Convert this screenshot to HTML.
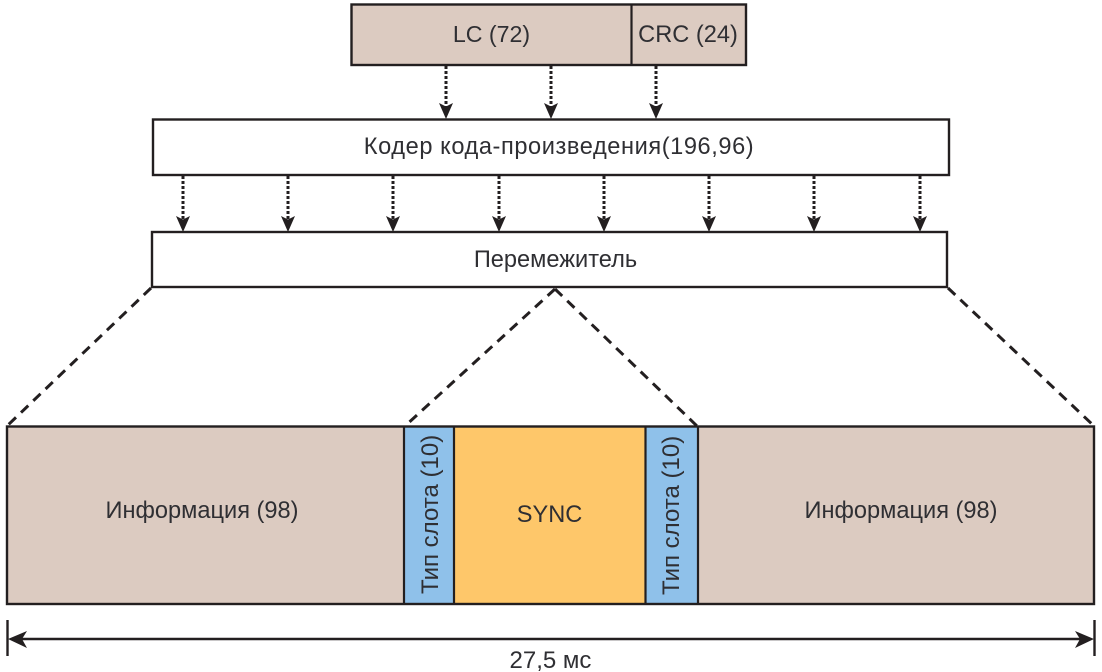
<!DOCTYPE html>
<html>
<head>
<meta charset="utf-8">
<style>
html,body{margin:0;padding:0;background:#fff;width:1102px;height:672px;overflow:hidden}
svg{display:block}
text{font-family:"Liberation Sans",Arial,sans-serif;font-size:23.6px;fill:#2f2f33}
</style>
</head>
<body>
<svg width="1102" height="672" viewBox="0 0 1102 672" xmlns="http://www.w3.org/2000/svg">
<defs>
<path id="ah" d="M-7,-15 L0,-11.5 L7,-15 L0,1 Z" fill="#231f20"/>
</defs>

<!-- Top box -->
<rect x="351.5" y="4.5" width="394.5" height="60.5" fill="#dccbc1" stroke="#231f20" stroke-width="2.4"/>
<line x1="631.5" y1="4" x2="631.5" y2="65" stroke="#231f20" stroke-width="2.2"/>
<text x="491.5" y="42" text-anchor="middle" style="font-size:23.2px">LC (72)</text>
<text x="688" y="42" text-anchor="middle">CRC (24)</text>

<!-- Top arrows -->
<g stroke="#231f20" stroke-width="3" stroke-dasharray="3 2" fill="none">
<line x1="446" y1="66" x2="446" y2="108"/>
<line x1="551" y1="66" x2="551" y2="108"/>
<line x1="656" y1="66" x2="656" y2="108"/>
</g>
<use href="#ah" x="446" y="118"/>
<use href="#ah" x="551" y="118"/>
<use href="#ah" x="656" y="118"/>

<!-- Encoder -->
<rect x="153" y="119.5" width="796" height="55.5" fill="#fff" stroke="#231f20" stroke-width="2.4"/>
<text x="559" y="154" text-anchor="middle" style="letter-spacing:.58px">Кодер кода-произведения(196,96)</text>

<!-- Middle arrows -->
<g stroke="#231f20" stroke-width="3" stroke-dasharray="3 2" fill="none">
<line x1="183" y1="176" x2="183" y2="220"/>
<line x1="288" y1="176" x2="288" y2="220"/>
<line x1="393" y1="176" x2="393" y2="220"/>
<line x1="499" y1="176" x2="499" y2="220"/>
<line x1="604" y1="176" x2="604" y2="220"/>
<line x1="709" y1="176" x2="709" y2="220"/>
<line x1="814" y1="176" x2="814" y2="220"/>
<line x1="920" y1="176" x2="920" y2="220"/>
</g>
<use href="#ah" x="183" y="231"/>
<use href="#ah" x="288" y="231"/>
<use href="#ah" x="393" y="231"/>
<use href="#ah" x="499" y="231"/>
<use href="#ah" x="604" y="231"/>
<use href="#ah" x="709" y="231"/>
<use href="#ah" x="814" y="231"/>
<use href="#ah" x="920" y="231"/>

<!-- Interleaver -->
<rect x="152" y="232" width="795" height="55" fill="#fff" stroke="#231f20" stroke-width="2.4"/>
<text x="555.5" y="267" text-anchor="middle">Перемежитель</text>

<!-- Dashed projection lines -->
<g stroke="#231f20" stroke-width="3" stroke-dasharray="10 7" fill="none">
<line x1="151" y1="288" x2="8" y2="425"/>
<line x1="555" y1="289" x2="405" y2="426"/>
<line x1="555" y1="289" x2="697" y2="426"/>
<line x1="948" y1="288" x2="1093" y2="425"/>
</g>

<!-- Bottom frame -->
<rect x="7" y="426.5" width="397" height="177.5" fill="#dccbc1"/>
<rect x="404" y="426.5" width="50" height="177.5" fill="#8fc1ea"/>
<rect x="454" y="426.5" width="191.5" height="177.5" fill="#fec76a"/>
<rect x="645.5" y="426.5" width="52.5" height="177.5" fill="#8fc1ea"/>
<rect x="698" y="426.5" width="396" height="177.5" fill="#dccbc1"/>
<rect x="7" y="426.5" width="1087" height="177.5" fill="none" stroke="#231f20" stroke-width="2.4"/>
<g stroke="#231f20" stroke-width="2.2">
<line x1="404" y1="426" x2="404" y2="604"/>
<line x1="454" y1="426" x2="454" y2="604"/>
<line x1="645.5" y1="426" x2="645.5" y2="604"/>
<line x1="698" y1="426" x2="698" y2="604"/>
</g>

<text x="202" y="518" text-anchor="middle">Информация (98)</text>
<text x="901" y="518" text-anchor="middle">Информация (98)</text>
<text x="549.5" y="522" text-anchor="middle">SYNC</text>
<text transform="translate(438,594) rotate(-90)" x="0" y="0" style="font-size:24px">Тип слота (10)</text>
<text transform="translate(679,595) rotate(-90)" x="0" y="0" style="font-size:24px">Тип слота (10)</text>

<!-- Dimension line -->
<g stroke="#231f20" stroke-width="2.4">
<line x1="7.5" y1="620" x2="7.5" y2="656"/>
<line x1="1094.5" y1="620" x2="1094.5" y2="656"/>
<line x1="20" y1="639" x2="1082" y2="639"/>
</g>
<path d="M8,639 L27,631 L22,639 L27,648 Z" fill="#231f20"/>
<path d="M1094,639 L1075,631 L1080,639 L1075,648 Z" fill="#231f20"/>
<text x="550.5" y="668" text-anchor="middle" style="font-size:24px">27,5 мс</text>
</svg>
</body>
</html>
